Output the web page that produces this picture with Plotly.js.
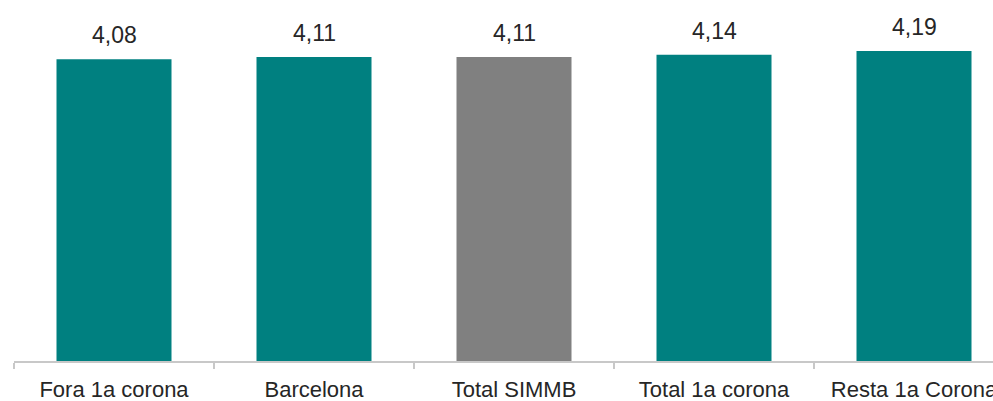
<!DOCTYPE html>
<html>
<head>
<meta charset="utf-8">
<script src="https://cdn.plot.ly/plotly-3.0.1.min.js"></script>
<style>html,body{margin:0;padding:0;background:#fff;}#chart{width:993px;height:401px;}</style>
</head>
<body>
<div id="chart"></div>
<script>
const categories = ["Fora 1a corona", "Barcelona", "Total SIMMB", "Total 1a corona", "Resta 1a Corona"];
const values = [4.08, 4.11, 4.11, 4.14, 4.19];
const labels = ["4,08", "4,11", "4,11", "4,14", "4,19"];
const colors = ["#008080", "#008080", "#808080", "#008080", "#008080"];

const trace = {
  type: "bar",
  x: categories,
  y: values,
  width: 0.575,
  marker: {color: colors, line: {width: 0}},
  hoverinfo: "none"
};

const annotations = categories.map((c, i) => ({
  x: c, y: values[i], xref: "x", yref: "y",
  text: labels[i], showarrow: false,
  yanchor: "bottom", yshift: 9,
  font: {family: "Liberation Sans, Arial, sans-serif", size: 23, color: "#262626"}
}));

const layout = {
  width: 993, height: 401,
  margin: {l: 14, r: 0, t: 23, b: 40, pad: 0},
  paper_bgcolor: "#ffffff", plot_bgcolor: "#ffffff",
  showlegend: false,
  xaxis: {
    type: "category",
    range: [-0.5, 4.395],
    showline: true, linecolor: "#c8c8c8", linewidth: 1.5,
    ticks: "outside", tickson: "boundaries", ticklen: 6, tickcolor: "#c8c8c8", tickwidth: 1.5,
    ticklabelstandoff: 8,
    showgrid: false, zeroline: false,
    tickfont: {family: "Liberation Sans, Arial, sans-serif", size: 22, color: "#262626"},
    fixedrange: true
  },
  yaxis: {
    range: [0, 4.57],
    visible: false, showgrid: false, zeroline: false, fixedrange: true
  },
  annotations: annotations
};

Plotly.newPlot("chart", [trace], layout, {staticPlot: true, displayModeBar: false});
</script>
</body>
</html>
